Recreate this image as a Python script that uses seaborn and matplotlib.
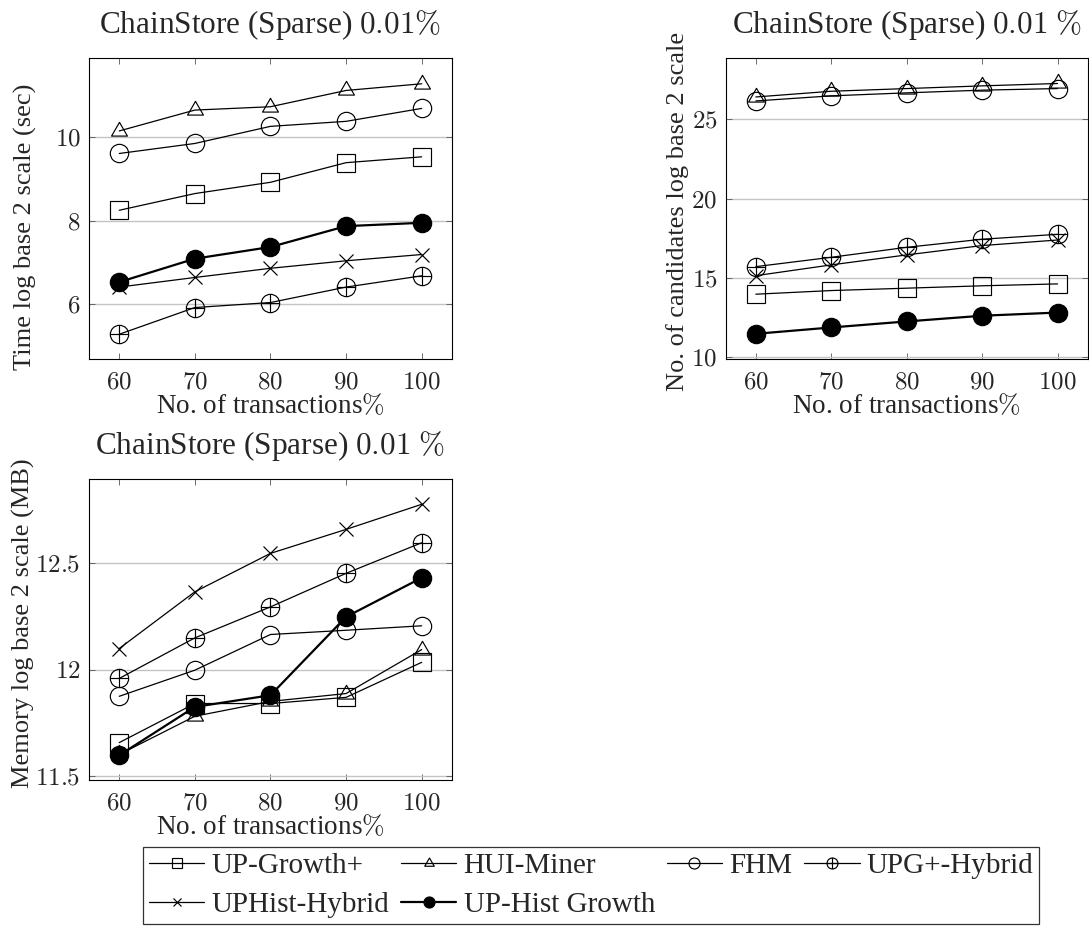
import numpy as np
import matplotlib
matplotlib.use("Agg")
import matplotlib.pyplot as plt
from matplotlib.path import Path
from matplotlib.ticker import FuncFormatter
import seaborn as sns

# x values: share of transactions used (%)
pct = [60, 70, 80, 90, 100]

methods = ["UP-Growth+", "HUI-Miner", "FHM", "UPG+-Hybrid",
           "UPHist-Hybrid", "UP-Hist Growth"]

# Runtime, log2 seconds
time_upgrowth = [8.25, 8.65, 8.92, 9.39, 9.53]
time_huiminer = [10.15, 10.65, 10.73, 11.12, 11.28]
time_fhm = [9.61, 9.85, 10.26, 10.38, 10.69]
time_upg_hybrid = [5.28, 5.92, 6.04, 6.41, 6.68]
time_uphist_hybrid = [6.41, 6.64, 6.86, 7.04, 7.19]
time_uphist_growth = [6.53, 7.09, 7.37, 7.87, 7.95]

# Number of candidates, log2
cand_upgrowth = [13.97, 14.20, 14.35, 14.50, 14.62]
cand_huiminer = [26.42, 26.78, 26.95, 27.12, 27.27]
cand_fhm = [26.17, 26.49, 26.68, 26.85, 26.95]
cand_upg_hybrid = [15.71, 16.30, 16.93, 17.44, 17.75]
cand_uphist_hybrid = [15.14, 15.82, 16.45, 17.04, 17.39]
cand_uphist_growth = [11.47, 11.87, 12.25, 12.61, 12.81]

# Memory, log2 MB
mem_upgrowth = [11.656, 11.84, 11.84, 11.869, 12.034]
mem_huiminer = [11.60, 11.78, 11.85, 11.887, 12.094]
mem_fhm = [11.874, 11.997, 12.165, 12.185, 12.206]
mem_upg_hybrid = [11.958, 12.149, 12.295, 12.453, 12.597]
mem_uphist_hybrid = [12.099, 12.366, 12.547, 12.660, 12.778]
mem_uphist_growth = [11.596, 11.824, 11.879, 12.248, 12.432]

time_series = [time_upgrowth, time_huiminer, time_fhm, time_upg_hybrid,
               time_uphist_hybrid, time_uphist_growth]
cand_series = [cand_upgrowth, cand_huiminer, cand_fhm, cand_upg_hybrid,
               cand_uphist_hybrid, cand_uphist_growth]
mem_series = [mem_upgrowth, mem_huiminer, mem_fhm, mem_upg_hybrid,
              mem_uphist_hybrid, mem_uphist_growth]

sns.set_style("ticks")
plt.rcParams["font.family"] = ["Liberation Serif", "DejaVu Serif"]
plt.rcParams["mathtext.fontset"] = "cm"
plt.rcParams["axes.linewidth"] = 0.8

# Custom marks: equilateral triangle and circled plus
tri = Path([(0, 1), (-0.8660, -0.5), (0.8660, -0.5), (0, 1)],
           [Path.MOVETO, Path.LINETO, Path.LINETO, Path.CLOSEPOLY])
circ = Path.unit_circle()
oplus = Path(np.concatenate([circ.vertices, [[-1, 0], [1, 0], [0, -1], [0, 1]]]),
             np.concatenate([circ.codes, [Path.MOVETO, Path.LINETO,
                                          Path.MOVETO, Path.LINETO]]))

styles = [
    dict(marker="s", markersize=13.2, markerfacecolor="none", linewidth=0.9),
    dict(marker=tri, markersize=13.2, markerfacecolor="none", linewidth=0.9),
    dict(marker="o", markersize=13.2, markerfacecolor="none", linewidth=0.9),
    dict(marker=oplus, markersize=13.2, markerfacecolor="none", linewidth=0.9),
    dict(marker="x", markersize=9.4, markerfacecolor="none", linewidth=0.9),
    dict(marker="o", markersize=13.2, markerfacecolor="black", linewidth=1.6),
]

fig = plt.figure(figsize=(10.89, 9.27), dpi=100)
ax1 = fig.add_axes([0.0817, 0.6124, 0.3333, 0.3247])
ax2 = fig.add_axes([0.6664, 0.6124, 0.3324, 0.3247])
ax3 = fig.add_axes([0.0817, 0.1586, 0.3333, 0.3244])

panels = [
    (ax1, time_series, r"ChainStore (Sparse) $0.01\%$",
     "Time log base 2 scale (sec)", (4.68, 11.89), [6, 8, 10], (-0.143, 0.44)),
    (ax2, cand_series, r"ChainStore (Sparse) $0.01$ $\%$",
     "No. of candidates log base 2 scale", (9.86, 28.86), [10, 15, 20, 25],
     (-0.102, 0.49)),
    (ax3, mem_series, r"ChainStore (Sparse) $0.01$ $\%$",
     "Memory log base 2 scale (MB)", (11.48, 12.896), [11.5, 12, 12.5],
     (-0.149, 0.52)),
]

fmt = FuncFormatter(lambda v, p: r"$%g$" % v)

for ax, series, title, ylabel, ylim, yticks, lab_xy in panels:
    for vals, st in zip(series, styles):
        sns.lineplot(x=pct, y=vals, ax=ax, color="black",
                     markeredgecolor="black", markeredgewidth=0.85,
                     legend=False, **st)
    ax.set_xlim(56, 104)
    ax.set_ylim(*ylim)
    ax.set_xticks(pct)
    ax.set_yticks(yticks)
    ax.xaxis.set_major_formatter(fmt)
    ax.yaxis.set_major_formatter(fmt)
    ax.yaxis.grid(True, color="#c4c4c4", linewidth=1.0)
    ax.xaxis.grid(False)
    ax.set_axisbelow(True)
    ax.tick_params(direction="in", top=True, right=True, length=4,
                   width=0.6, color="#555555", labelsize=18, pad=6)
    ax.tick_params(axis="x", pad=9)
    for sp in ax.spines.values():
        sp.set_color("black")
        sp.set_linewidth(0.8)
    ax.set_title(title, fontsize=22.5, pad=18.5)
    ax.set_xlabel(r"No. of transactions$\%$", fontsize=19.5, labelpad=0)
    ax.set_ylabel(ylabel, fontsize=19)
    ax.yaxis.set_label_coords(*lab_xy)

handles = list(ax1.lines)
for h, name in zip(handles, methods):
    h.set_label(name)
# column-major fill: reorder so rows read left to right
order = [0, 4, 1, 5, 2, 3]
leg = fig.legend([handles[i] for i in order], [methods[i] for i in order],
                 ncol=4, loc="upper left",
                 bbox_to_anchor=(143 / 1089, 1 - 847 / 927),
                 borderaxespad=0, frameon=True, fancybox=False,
                 edgecolor="black", fontsize=21, markerscale=0.6,
                 handlelength=1.9, handletextpad=0.25, columnspacing=0.4,
                 labelspacing=0.42, borderpad=0.2)
leg.get_frame().set_linewidth(0.9)

fig.savefig("out.png", dpi=100)
